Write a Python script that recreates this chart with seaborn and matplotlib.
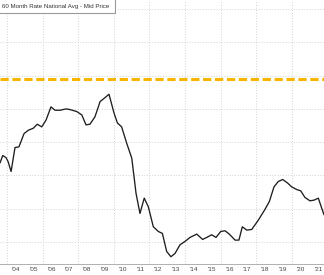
import matplotlib
matplotlib.use("Agg")
import matplotlib.pyplot as plt
import seaborn as sns
import pandas as pd
import numpy as np
from matplotlib.patches import Rectangle

# ---- data ----
years = [2003.61, 2003.76, 2003.94, 2004.06, 2004.23, 2004.45, 2004.67, 2004.96, 2005.20, 2005.48,
         2005.70, 2005.95, 2006.19, 2006.47, 2006.70, 2006.98, 2007.32, 2007.54, 2007.92, 2008.20,
         2008.44, 2008.66, 2008.94, 2009.23, 2009.51, 2009.73, 2010.01, 2010.20, 2010.44, 2010.73,
         2011.01, 2011.25, 2011.47, 2011.71, 2011.94, 2012.22, 2012.50, 2012.73, 2012.97, 2013.21,
         2013.44, 2013.72, 2014.00, 2014.28, 2014.66, 2014.99, 2015.22, 2015.50, 2015.74, 2016.01,
         2016.25, 2016.49, 2016.81, 2017.03, 2017.22, 2017.47, 2017.75, 2018.12, 2018.49, 2018.74,
         2019.00, 2019.24, 2019.49, 2019.75, 2019.99, 2020.27, 2020.50, 2020.74, 2021.02, 2021.25,
         2021.49, 2021.68, 2021.81]
rate = [4.69, 4.80, 4.77, 4.71, 4.56, 4.92, 4.93, 5.13, 5.18, 5.21,
        5.27, 5.23, 5.33, 5.53, 5.48, 5.48, 5.50, 5.49, 5.46, 5.41,
        5.26, 5.27, 5.38, 5.61, 5.67, 5.72, 5.44, 5.29, 5.23, 4.98,
        4.76, 4.23, 3.93, 4.16, 4.03, 3.73, 3.66, 3.63, 3.36, 3.28,
        3.33, 3.46, 3.51, 3.57, 3.62, 3.54, 3.57, 3.61, 3.57, 3.66,
        3.67, 3.62, 3.53, 3.53, 3.73, 3.68, 3.69, 3.83, 3.99, 4.11,
        4.33, 4.41, 4.44, 4.39, 4.33, 4.29, 4.27, 4.17, 4.12, 4.13,
        4.16, 4.01, 3.91]
reference_level = 5.95
series_label = "60 Month Rate National Avg - Mid Price"
tick_years = list(range(2003, 2023))
tick_labels = ["'%02d" % (y % 100) for y in tick_years]
y_grid = [3.5, 4.0, 4.5, 5.0, 5.5, 6.0, 6.5, 7.0]
x_grid_years = [2004, 2006, 2008, 2010, 2012, 2014, 2016, 2018, 2020]

df = pd.DataFrame({"year": years, "rate": rate})

sns.set_theme(style="white")
plt.rcParams['font.family'] = ['Liberation Sans', 'DejaVu Sans']

W, H = 324, 275
fig = plt.figure(figsize=(W / 100, H / 100), dpi=100)
axis_y = 264
ax = fig.add_axes([0, (H - axis_y) / H, 1, axis_y / H])

grid_kw = dict(color="#c4c4c4", lw=0.6, ls=(0, (1, 2.2)), zorder=0)
for gy in y_grid:
    ax.axhline(gy, **grid_kw)
for gx in x_grid_years:
    ax.axvline(gx, **grid_kw)

ax.axhline(reference_level, color="#F7B500", lw=2.2, ls=(0, (2.7, 1.2)), zorder=2)
sns.lineplot(data=df, x="year", y="rate", ax=ax, color="#1e1e1e", lw=0.95, zorder=3)

ax.set_xlabel("")
ax.set_ylabel("")
ax.set_yticks([])

for s in ["top", "left", "right"]:
    ax.spines[s].set_visible(False)
ax.spines["bottom"].set_color("#b0b0b0")
ax.spines["bottom"].set_linewidth(0.7)

# separators at each Jan
ax.set_xticks(tick_years)
ax.set_xticklabels([])
ax.tick_params(axis="x", which="major", length=6.5, width=0.6, color="#b0b0b0", direction="out")

# labels at mid-year
sec = ax.secondary_xaxis("bottom")
sec.set_xticks([y + 0.5 for y in tick_years])
sec.set_xticklabels(tick_labels, fontsize=4.6, color="#444444")
sec.tick_params(length=0, pad=2.0)
sec.spines["bottom"].set_visible(False)

# limits last (set_xticks can widen the view)
ax.set_xlim(2003 + 10.8 / 17.8, 2003 + (W + 10.8) / 17.8)
ax.set_ylim(7.0 - (axis_y - 9) / 66.6, 7.0 + 9 / 66.6)

# legend box (cropped at left)
fig.patches.append(Rectangle((-20 / W, 1 - 12.7 / H), (20 + 115) / W, 20 / H,
                             transform=fig.transFigure, facecolor="white",
                             edgecolor="#9a9a9a", lw=0.8, zorder=5))
fig.text(1.8 / W, 1 - 6.2 / H, series_label, fontsize=4.4, color="#333333",
         va="center", ha="left", zorder=6)

fig.savefig("out.png", dpi=100)
